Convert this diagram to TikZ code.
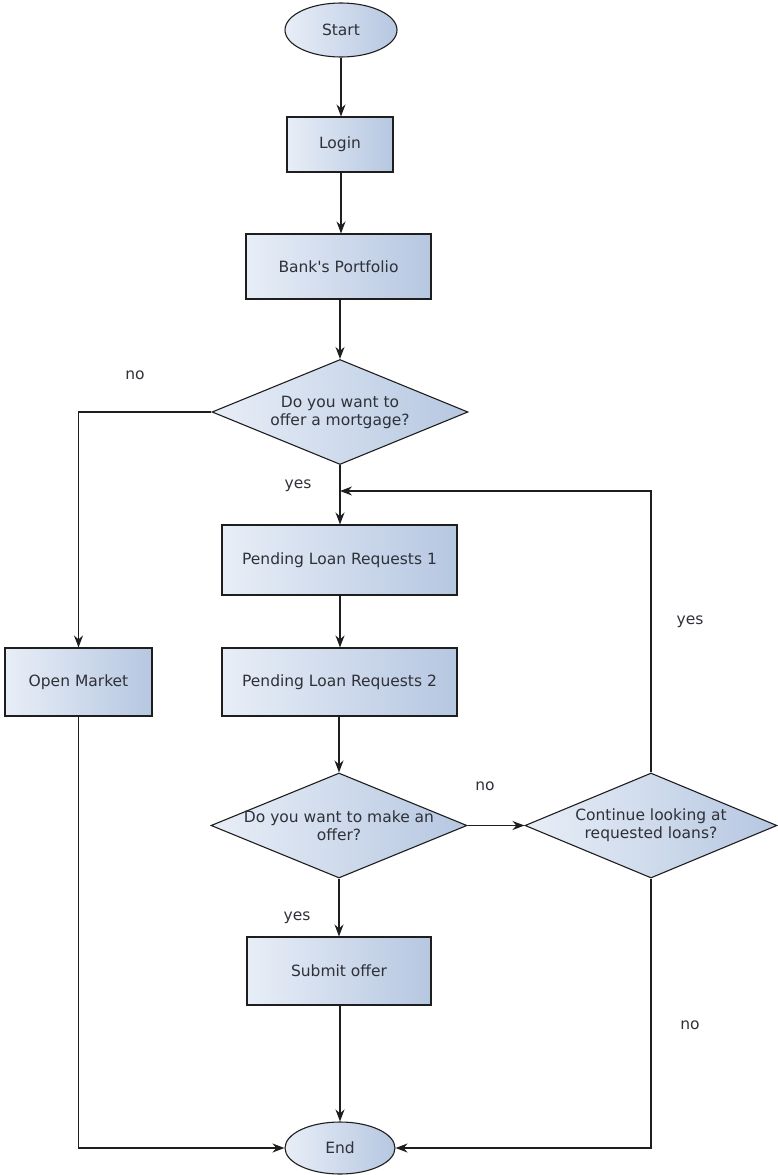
\documentclass[tikz,border=0pt]{standalone}
\usepackage{fontspec}
\setmainfont{DejaVu Sans}[Ligatures=ResetAll]
\usetikzlibrary{shapes.geometric,arrows.meta}
\definecolor{shL}{HTML}{E8EEF7}
\definecolor{shR}{HTML}{B6C7E1}
\definecolor{txt}{HTML}{2E3138}
\definecolor{ln}{HTML}{1E1E1E}
\begin{document}
\begin{tikzpicture}[x=1pt,y=-1pt,
  every node/.style={font=\fontsize{15.5}{18}\selectfont, text=txt},
  filled/.style={draw=ln, line width=1.1pt, left color=shL, right color=shR},
  procbox/.style={filled, rectangle, minimum width=#1, inner sep=0pt},
  term/.style={filled, ellipse, minimum width=112pt, minimum height=54pt, inner sep=0pt},
  decision/.style={filled, diamond, aspect=2.42, inner sep=0pt, minimum width=256pt, minimum height=105pt, align=center},
  conn/.style={draw=ln, line width=1.1pt, -{Stealth[length=12pt,width=9pt]}},
  lbl/.style={font=\fontsize{15.5}{18}\selectfont, text=txt}
]
\useasboundingbox (0,0) rectangle (778,1175);
\node[term] (start) at (341,30) {Start};
\node[procbox=106pt, minimum height=55pt] (login) at (340,144.5) {Login};
\node[procbox=185pt, minimum height=65pt] (bank) at (338.5,266.5) {Bank\textquotesingle s Portfolio};
\node[decision] (d1) at (340,412) {Do you want to\\offer a mortgage?};
\node[procbox=235pt, minimum height=70pt] (p1) at (339.5,560) {Pending Loan Requests 1};
\node[procbox=235pt, minimum height=68pt] (p2) at (339.5,682) {Pending Loan Requests 2};
\node[procbox=147pt, minimum height=68pt] (om) at (78.5,682) {Open Market};
\node[decision, inner xsep=-8pt] (d2) at (339,825.5) {Do you want to make an\\offer?};
\node[decision, minimum width=252pt] (d3) at (651,825.5) {Continue looking at\\requested loans?};
\node[procbox=184pt, minimum height=68pt] (sub) at (339,971) {Submit offer};
\node[term, minimum width=110pt, minimum height=52pt] (end) at (340,1148) {End};

\coordinate (j1) at (340,491);
\draw[conn] (start.south) -- (login.north -| start.south);
\draw[conn] (login.south -| start) -- (bank.north -| start);
\draw[conn] (bank.south -| d1) -- (d1.north);
\draw[conn] (d1.south) -- (p1.north -| d1);
\draw[conn] (d1.west) -| (om.north);
\draw[conn] (p1.south -| d1) -- (p2.north -| d1);
\draw[conn] (p2.south -| d2) -- (d2.north);
\draw[conn] (d2.south) -- (sub.north -| d2);
\draw[conn] (d2.east) -- (d3.west);
\draw[conn] (d3.north) |- (j1);
\draw[conn] (d3.south) |- (end.east);
\draw[conn] (om.south) |- (end.west);
\draw[conn] (sub.south -| end) -- (end.north);

\node[lbl] at (135,375) {no};
\node[lbl] at (298,486) {yes};
\node[lbl] at (690,622) {yes};
\node[lbl] at (485,786) {no};
\node[lbl] at (297,918) {yes};
\node[lbl] at (690,1025) {no};
\end{tikzpicture}
\end{document}
